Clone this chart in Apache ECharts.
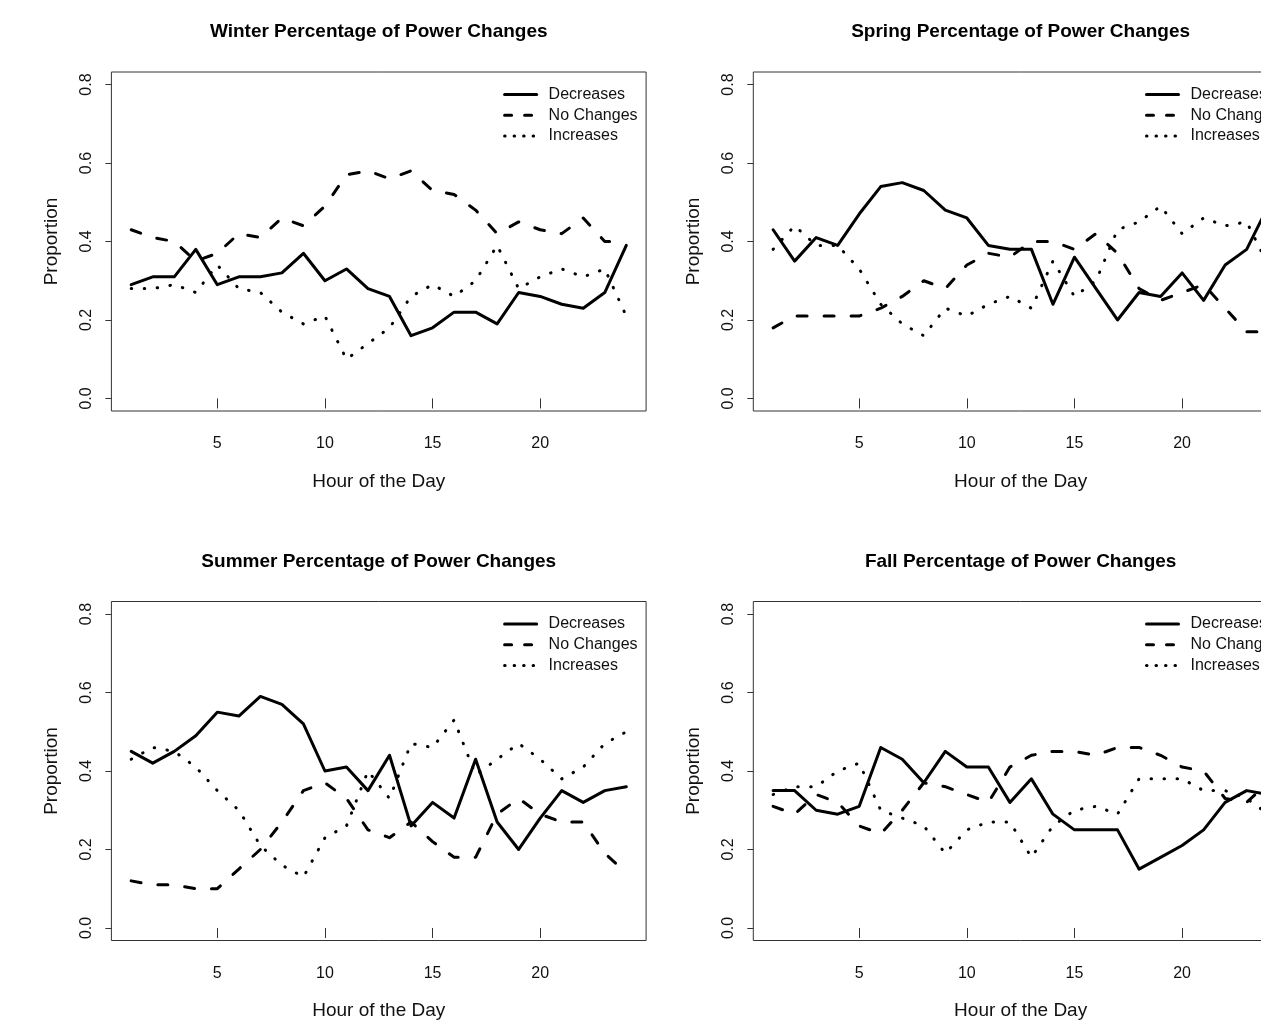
<!DOCTYPE html>
<html>
<head>
<meta charset="utf-8">
<script src="https://cdn.jsdelivr.net/npm/echarts@6/dist/echarts.min.js"></script>
<style>
html,body{margin:0;padding:0;background:#fff;overflow:hidden;}
#chart{width:1300px;height:1034px;}
</style>
</head>
<body>
<div id="chart"></div>
<script>
// ---------------- data ----------------
const hours = [1,2,3,4,5,6,7,8,9,10,11,12,13,14,15,16,17,18,19,20,21,22,23,24];
const xTickValues = [5,10,15,20];
const yTickValues = [0,0.2,0.4,0.6,0.8];
const seriesNames = ['Decreases','No Changes','Increases'];
const panelTitles = [
  'Winter Percentage of Power Changes',
  'Spring Percentage of Power Changes',
  'Summer Percentage of Power Changes',
  'Fall Percentage of Power Changes'
];
const xAxisName = 'Hour of the Day';
const yAxisName = 'Proportion';

const winterDecreases = [0.29,0.31,0.31,0.38,0.29,0.31,0.31,0.32,0.37,0.30,0.33,0.28,0.26,0.16,0.18,0.22,0.22,0.19,0.27,0.26,0.24,0.23,0.27,0.39];
const winterNoChanges = [0.43,0.41,0.40,0.35,0.37,0.42,0.41,0.46,0.44,0.49,0.57,0.58,0.56,0.58,0.53,0.52,0.48,0.42,0.45,0.43,0.42,0.46,0.40,0.40];
const winterIncreases = [0.28,0.28,0.29,0.27,0.34,0.28,0.27,0.22,0.19,0.21,0.10,0.14,0.18,0.26,0.29,0.26,0.30,0.39,0.28,0.31,0.33,0.31,0.33,0.21];

const springDecreases = [0.43,0.35,0.41,0.39,0.47,0.54,0.55,0.53,0.48,0.46,0.39,0.38,0.38,0.24,0.36,0.28,0.20,0.27,0.26,0.32,0.25,0.34,0.38,0.49];
const springNoChanges = [0.18,0.21,0.21,0.21,0.21,0.23,0.26,0.30,0.28,0.34,0.37,0.36,0.40,0.40,0.38,0.42,0.37,0.28,0.25,0.27,0.29,0.23,0.17,0.17];
const springIncreases = [0.38,0.44,0.39,0.39,0.33,0.24,0.19,0.16,0.23,0.21,0.24,0.26,0.23,0.35,0.26,0.30,0.43,0.45,0.49,0.42,0.46,0.44,0.45,0.34];

const summerDecreases = [0.45,0.42,0.45,0.49,0.55,0.54,0.59,0.57,0.52,0.40,0.41,0.35,0.44,0.26,0.32,0.28,0.43,0.27,0.20,0.28,0.35,0.32,0.35,0.36];
const summerNoChanges = [0.12,0.11,0.11,0.10,0.10,0.15,0.20,0.27,0.35,0.37,0.33,0.25,0.23,0.27,0.22,0.18,0.18,0.29,0.33,0.29,0.27,0.27,0.19,0.14];
const summerIncreases = [0.43,0.46,0.45,0.41,0.35,0.30,0.21,0.16,0.13,0.23,0.26,0.40,0.33,0.47,0.46,0.53,0.39,0.43,0.47,0.43,0.38,0.41,0.47,0.50];

const fallDecreases = [0.35,0.35,0.30,0.29,0.31,0.46,0.43,0.37,0.45,0.41,0.41,0.32,0.38,0.29,0.25,0.25,0.25,0.15,0.18,0.21,0.25,0.32,0.35,0.34];
const fallNoChanges = [0.31,0.29,0.34,0.32,0.26,0.24,0.30,0.37,0.36,0.34,0.32,0.41,0.44,0.45,0.45,0.44,0.46,0.46,0.44,0.41,0.40,0.33,0.32,0.37];
const fallIncreases = [0.34,0.36,0.36,0.40,0.42,0.30,0.28,0.26,0.19,0.25,0.27,0.27,0.18,0.26,0.30,0.31,0.29,0.38,0.38,0.38,0.35,0.35,0.33,0.29];

const panelData = [
  [winterDecreases, winterNoChanges, winterIncreases],
  [springDecreases, springNoChanges, springIncreases],
  [summerDecreases, summerNoChanges, summerIncreases],
  [fallDecreases, fallNoChanges, fallIncreases]
];

// ---------------- layout & style ----------------
const FONT = "'Liberation Sans', Arial, sans-serif";
const panels = [
  {left: 111.4, top: 72},
  {left: 753.3, top: 72},
  {left: 111.4, top: 601.5},
  {left: 753.3, top: 601.5}
];
const W = 534.7, H = 339;
const ink = '#111';
const seriesDash = ['solid', [10, 17], [0.5, 12.5]];
const legendDash = ['solid', [7, 13], [0.5, 9]];

const grid = [], xAxis = [], yAxis = [], series = [], legend = [], graphic = [];

panels.forEach((p, i) => {
  grid.push({left: p.left, top: p.top, width: W, height: H, show: true,
    borderColor: '#333', borderWidth: 1, backgroundColor: 'transparent', containLabel: false});
  xAxis.push({
    type: 'value', gridIndex: i, min: 0.08, max: 24.92,
    axisLine: {show: false},
    axisTick: {show: true, length: 10, customValues: xTickValues, lineStyle: {color: '#333', width: 1}},
    axisLabel: {show: true, customValues: xTickValues, margin: 25, fontSize: 16, color: ink, fontFamily: FONT},
    splitLine: {show: false},
    name: xAxisName, nameLocation: 'middle', nameGap: 61,
    nameTextStyle: {fontSize: 19, color: ink, fontFamily: FONT}
  });
  yAxis.push({
    type: 'value', gridIndex: i, min: -0.032, max: 0.832,
    axisLine: {show: false},
    axisTick: {show: true, length: 6, customValues: yTickValues, lineStyle: {color: '#333', width: 1}},
    axisLabel: {show: true, customValues: yTickValues, rotate: 90, margin: 17, fontSize: 16, color: ink, fontFamily: FONT,
      formatter: v => Number(v).toFixed(1)},
    splitLine: {show: false},
    name: yAxisName, nameLocation: 'middle', nameGap: 50, nameRotate: 90,
    nameTextStyle: {fontSize: 19, color: ink, fontFamily: FONT}
  });
  seriesNames.forEach((name, k) => {
    series.push({
      type: 'line', name: name, xAxisIndex: i, yAxisIndex: i,
      data: hours.map((h, j) => [h, panelData[i][k][j]]),
      showSymbol: false, symbol: 'none', silent: true, animation: false,
      lineStyle: {color: '#000', width: 3, type: seriesDash[k], cap: 'round', join: 'round'},
      itemStyle: {color: '#000'}
    });
  });
  legend.push({
    orient: 'vertical', left: p.left + 391.7, top: p.top + 14, padding: 0,
    itemWidth: 32, itemHeight: 14, itemGap: 3.7, selectedMode: false,
    textStyle: {fontSize: 16, lineHeight: 17, color: ink, fontFamily: FONT, padding: [0, 0, 0, 7]},
    data: seriesNames.map((n, k) => ({
      name: n,
      itemStyle: {opacity: 0, color: 'transparent', borderWidth: 0},
      lineStyle: {color: '#000', width: 3, type: legendDash[k], cap: 'round'}
    }))
  });
  graphic.push({
    type: 'text', x: p.left + W / 2, y: p.top - 40,
    style: {text: panelTitles[i], fill: '#000', font: "bold 19px " + FONT, align: 'center', verticalAlign: 'middle'},
    silent: true
  });
});

const chart = echarts.init(document.getElementById('chart'), null, {renderer: 'canvas'});
chart.setOption({
  animation: false,
  backgroundColor: '#fff',
  grid, xAxis, yAxis, series, legend, graphic
});
</script>
</body>
</html>
